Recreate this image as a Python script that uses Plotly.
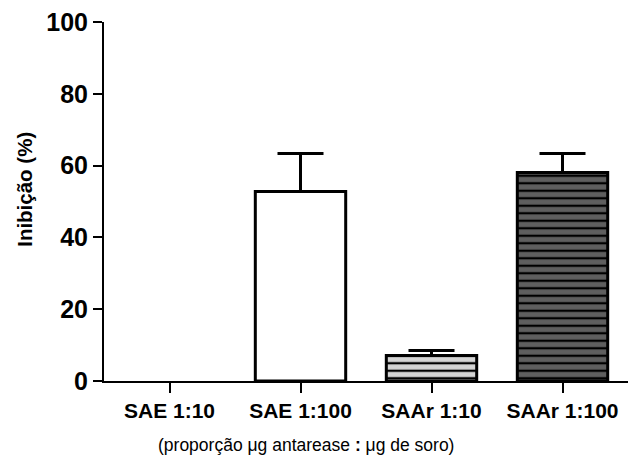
import plotly.graph_objects as go

categories = ["SAE 1:10", "SAE 1:100", "SAAr 1:10", "SAAr 1:100"]
inhibition = [0, 52.8, 7.1, 58.1]
error_plus = [0, 10.6, 1.4, 5.3]

fill_colors = ["white", "white", "#d4d4d4", "#5f5f5f"]
outline_colors = ["rgba(0,0,0,0)", "black", "black", "black"]
pattern_shapes = ["", "", "-", "-"]

FONT = "Arial, Liberation Sans, sans-serif"

fig = go.Figure()
for i, cat in enumerate(categories):
    marker = dict(color=fill_colors[i], line=dict(color=outline_colors[i], width=3))
    if pattern_shapes[i]:
        marker["pattern"] = dict(shape=pattern_shapes[i], fgcolor="black", fgopacity=1,
                                 bgcolor=fill_colors[i], size=7.5, solidity=0.3,
                                 fillmode="replace")
    err = None
    if error_plus[i] > 0:
        err = dict(type="data", symmetric=False, array=[error_plus[i]], arrayminus=[0],
                   color="black", thickness=3, width=23)
    fig.add_trace(go.Bar(
        x=[cat], y=[inhibition[i]], width=0.69, marker=marker,
        error_y=err, cliponaxis=False, showlegend=False,
    ))

fig.update_layout(
    width=630, height=468,
    barmode="overlay",
    margin=dict(l=104, r=2, t=22, b=87),
    plot_bgcolor="white", paper_bgcolor="white",
    showlegend=False,
    font=dict(family=FONT, color="black"),
    xaxis=dict(
        range=[-0.5, 3.5], showline=True, linecolor="black", linewidth=2,
        ticks="outside", ticklen=10, tickwidth=2, tickcolor="black",
        categoryorder="array", categoryarray=categories,
        tickfont=dict(size=21, family=FONT, weight="bold"),
        showgrid=False, zeroline=False,
    ),
    yaxis=dict(
        range=[0, 100], showline=True, linecolor="black", linewidth=2,
        ticks="outside", ticklen=9, tickwidth=2, tickcolor="black",
        tickvals=[0, 20, 40, 60, 80, 100],
        tickfont=dict(size=25, family=FONT, weight="bold"),
        showgrid=False, zeroline=False,
    ),
    annotations=[
        dict(text="Inibição (%)", textangle=-90, xref="paper", yref="paper",
             x=-0.151, y=0.535, xanchor="center", yanchor="middle", showarrow=False,
             font=dict(size=20.5, family=FONT, weight="bold")),
        dict(text="(proporção μg antarease <b>:</b> μg de soro)", xref="paper", yref="paper",
             x=0.385, y=-0.178, xanchor="center", yanchor="middle", showarrow=False,
             font=dict(size=17.5, family=FONT)),
    ],
)

fig.write_html("out.html")
